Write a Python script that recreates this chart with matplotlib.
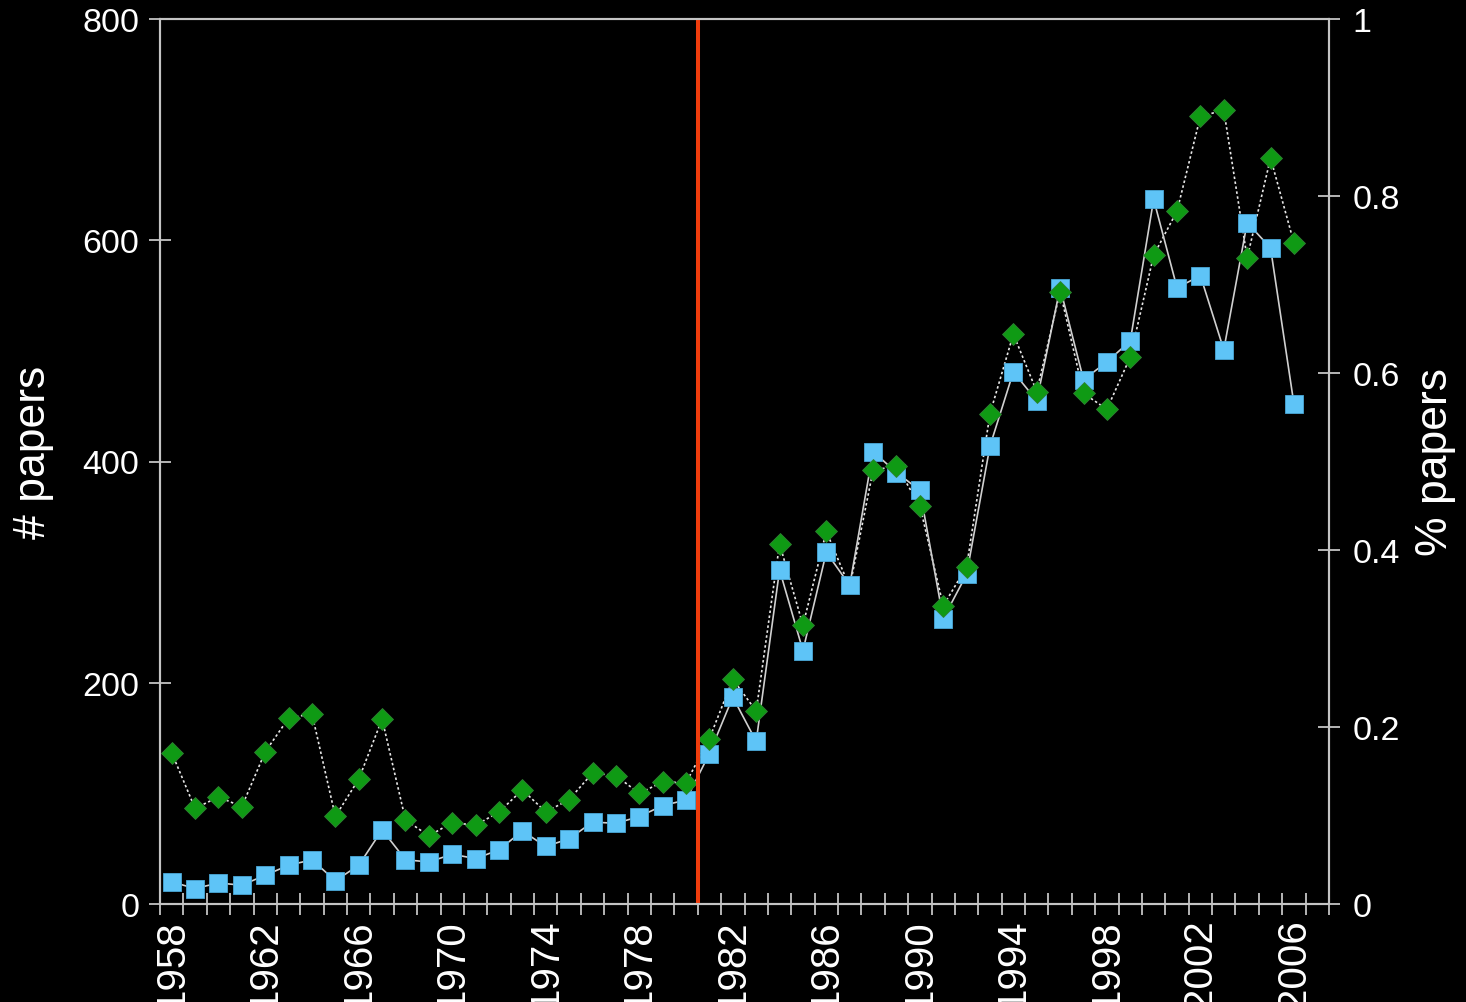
import matplotlib
matplotlib.use("Agg")
import matplotlib.pyplot as plt
from matplotlib.ticker import FixedLocator, NullFormatter

plt.rcParams['font.family'] = ['Liberation Sans', 'DejaVu Sans']

years = list(range(1958, 2007))

# number of papers per year (left axis)
n_papers = [20, 14, 19, 17, 26, 35, 40, 21, 35, 67,
            40, 38, 45, 41, 49, 66, 52, 59, 74, 73,
            79, 89, 94, 136, 187, 147, 302, 229, 318, 288,
            409, 390, 374, 258, 298, 414, 481, 455, 557, 474,
            490, 509, 637, 557, 568, 501, 616, 593, 452]

# share of papers per year (right axis)
pct_papers = [0.171, 0.108, 0.121, 0.110, 0.172, 0.210, 0.215, 0.099, 0.141, 0.209,
              0.095, 0.077, 0.092, 0.089, 0.104, 0.129, 0.104, 0.118, 0.148, 0.145,
              0.125, 0.138, 0.137, 0.187, 0.254, 0.218, 0.407, 0.315, 0.421, 0.358,
              0.490, 0.495, 0.450, 0.337, 0.381, 0.554, 0.644, 0.579, 0.692, 0.577,
              0.559, 0.618, 0.733, 0.783, 0.890, 0.897, 0.730, 0.843, 0.747]

year_labels = list(range(1958, 2007, 4))
left_ticks = [0, 200, 400, 600, 800]
right_ticks = [0, 0.2, 0.4, 0.6, 0.8, 1.0]
right_tick_labels = ['0', '0.2', '0.4', '0.6', '0.8', '1']
marker_hidden_year = 1987
divider_year = 1980.5

W, H = 1466, 1003
fig = plt.figure(figsize=(W / 100, H / 100), dpi=100, facecolor='black')
ax = fig.add_axes([160 / W, 1 - 905 / H, (1329 - 160) / W, (905 - 20) / H])
ax.set_facecolor('black')
ax2 = ax.twinx()
ax2.patch.set_visible(False)

ax.set_xlim(1957.5, 2007.5)
ax.set_ylim(0, 800)
ax2.set_ylim(0, 1)

spine_col = '#c4c4c4'
for a in (ax, ax2):
    for s in a.spines.values():
        s.set_color(spine_col)
        s.set_linewidth(1.5)

# percentage series: dotted line under the squares, diamonds above them
ax.plot(years, pct_papers, transform=ax2.transData, color='#e8e8e8',
        lw=1.2, ls=(0, (1.5, 1.5)), zorder=2, clip_on=False)

# paper counts
ax.plot(years, n_papers, color='#d0d0d0', lw=1.2, marker='s', ms=13,
        mfc='#5ec4f7', mec='#4aa8d8', mew=0.6, zorder=3, clip_on=False)

marker_idx = [i for i, y in enumerate(years) if y != marker_hidden_year]
ax.plot(years, pct_papers, transform=ax2.transData, ls='none', marker='D',
        ms=10.8, mfc='#0f9a14', mec='#2f7f33', mew=0.6, markevery=marker_idx,
        zorder=4, clip_on=False)

ax.axvline(divider_year, color='#f03c0c', lw=2.9, zorder=5)

# x axis: tick marks between years, labels every four years
ax.xaxis.set_major_locator(FixedLocator(year_labels))
ax.set_xticklabels([str(y) for y in year_labels], rotation=90, color='white',
                   fontsize=29)
ax.tick_params(axis='x', which='major', length=0, pad=10)
ax.xaxis.set_minor_locator(FixedLocator([y + 0.5 for y in range(1957, 2008)]))
ax.xaxis.set_minor_formatter(NullFormatter())
ax.tick_params(axis='x', which='minor', direction='inout', length=16,
               width=1.3, color=spine_col)

ax.set_yticks(left_ticks)
ax.set_yticklabels([str(v) for v in left_ticks])
ax.tick_params(axis='y', direction='inout', length=16, width=1.3,
               color=spine_col, labelcolor='white', labelsize=24.5, pad=7)

ax2.set_yticks(right_ticks)
ax2.set_yticklabels(right_tick_labels)
ax2.tick_params(axis='y', direction='inout', length=16, width=1.3,
                color=spine_col, labelcolor='white', labelsize=24.5, pad=9)

fig.text(33 / W, 1 - 452 / H, '# papers', rotation=90, ha='center',
         va='center', color='white', fontsize=32)
fig.text(1436 / W, 1 - 462 / H, '% papers', rotation=90, ha='center',
         va='center', color='white', fontsize=32)

fig.savefig('out.png', dpi=100, facecolor='black')
